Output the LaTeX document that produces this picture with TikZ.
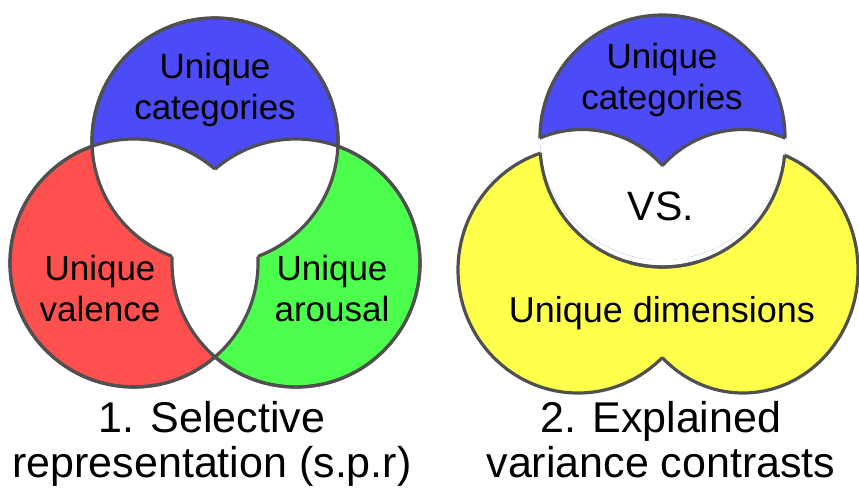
\documentclass[tikz,border=0pt]{standalone}
\usepackage{fontspec}
\setmainfont{Liberation Sans}
\definecolor{cblue}{HTML}{4B4BF7}
\definecolor{cred}{HTML}{FF5050}
\definecolor{cgreen}{HTML}{4CFF4C}
\definecolor{cyel}{HTML}{FFFF4C}
\definecolor{cline}{HTML}{505050}
% circles of diagram 1
\def\TopA{(215,141) circle (123pt)}
\def\LeftA{(134,263) circle (124pt)}
\def\RightA{(296,263) circle (124pt)}
% diagram 2
\def\TopB{(662.5,137.5) circle (122.5pt)}
\def\AuxL{(582,237.5) circle (108pt)}
\def\AuxR{(743,237.5) circle (108pt)}
\def\HoleB{(662.5,144.5) circle (122.5pt)}
\def\YelL{(578,270) ellipse [x radius=120pt, y radius=123pt]}
\def\YelR{(743,270) ellipse [x radius=115pt, y radius=123pt]}
\def\BigRect{(-30,-30) rectangle (900,520)}
\tikzset{
  outl/.style={draw=cline, line width=3.2pt},
  lab/.style={font=\fontsize{35}{41}\selectfont, align=center, inner sep=0pt, text=black},
  bigtxt/.style={font=\fontsize{41}{45}\selectfont, inner sep=0pt},
  dimtxt/.style={font=\fontsize{36}{41}\selectfont, inner sep=0pt},
  captxt/.style={font=\fontsize{43}{45}\selectfont, align=center, inner sep=0pt}
}
\begin{document}
\begin{tikzpicture}[x=1pt,y=-1pt]
\useasboundingbox[fill=white] (0,0) rectangle (859,488);
% ===== Diagram 1 =====
\fill[cblue] \TopA;
\fill[cred] \LeftA;
\fill[cgreen] \RightA;
\begin{scope}\clip \TopA; \fill[white] \LeftA; \fill[white] \RightA; \end{scope}
\begin{scope}\clip \LeftA; \fill[white] \RightA; \end{scope}
% outlines: each circle outside either other circle
\begin{scope}[even odd rule]\clip \BigRect \LeftA; \draw[outl] \TopA; \draw[outl] \RightA; \end{scope}
\begin{scope}[even odd rule]\clip \BigRect \RightA; \draw[outl] \TopA; \draw[outl] \LeftA; \end{scope}
\begin{scope}[even odd rule]\clip \BigRect \TopA; \draw[outl] \LeftA; \draw[outl] \RightA; \end{scope}
% ===== Diagram 2 =====
% yellow
\fill[cyel] \YelL;
\fill[cyel] \YelR;
\fill[white] \HoleB;
% blue
\begin{scope}\clip \TopB; \fill[cblue] \TopB; \fill[white] \AuxL; \fill[white] \AuxR; \end{scope}
\begin{scope}[even odd rule]\clip \BigRect \AuxL; \clip \BigRect \AuxR; \draw[outl] \TopB; \end{scope}
\begin{scope}[even odd rule]\clip \TopB; \clip \BigRect \AuxR; \draw[outl] \AuxL; \end{scope}
\begin{scope}[even odd rule]\clip \TopB; \clip \BigRect \AuxL; \draw[outl] \AuxR; \end{scope}
% yellow outlines
\begin{scope}[even odd rule]\clip \BigRect \YelR; \clip \BigRect \HoleB; \draw[outl] \YelL; \end{scope}
\begin{scope}[even odd rule]\clip \BigRect \YelL; \clip \BigRect \HoleB; \draw[outl] \YelR; \end{scope}
\begin{scope}\clip \YelL; \draw[outl] \HoleB; \end{scope}
\begin{scope}\clip \YelR; \draw[outl] \HoleB; \end{scope}
% ===== Labels =====
\node[lab] (catL) at (215,90) {Unique\\categories};
\node[lab] (val) at (100,288) {Unique\\valence};
\node[lab] (aro) at (332,288) {Unique\\arousal};
\node[lab] (catR) at (662,80) {Unique\\categories};
\node[bigtxt, anchor=base] (vs) at (661,220) {VS.};
\node[dimtxt, anchor=base] (dim) at (662,322) {Unique dimensions};
\node[captxt] (capA) at (212,444) {1. Selective\\representation (s.p.r)};
\node[captxt] (capB) at (661,440) {2. Explained\\variance contrasts};
\end{tikzpicture}
\end{document}
